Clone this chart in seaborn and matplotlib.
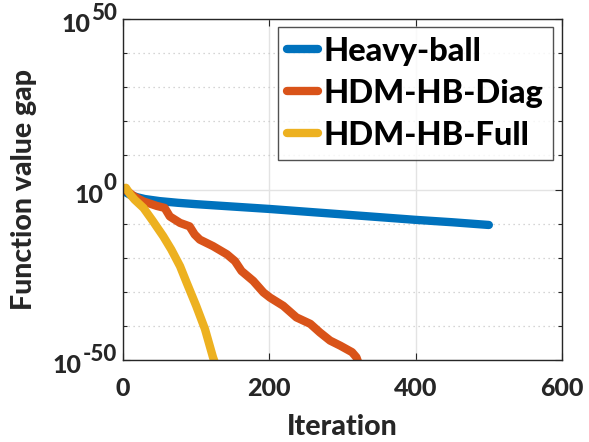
import numpy as np
import pandas as pd
import matplotlib
matplotlib.use("Agg")
import matplotlib.pyplot as plt
import matplotlib.ticker as mticker
from matplotlib.transforms import blended_transform_factory
import seaborn as sns

# Iteration counts and log10 of the function value gap for each method
hb_iter = [0, 5, 10, 20, 30, 50, 75, 100, 150, 200, 250, 300, 350, 400, 450, 500]
hb_log10 = [0.0, -1.0, -1.6, -2.3, -2.8, -3.4, -3.9, -4.3, -5.0, -5.7, -6.5,
            -7.3, -8.1, -8.9, -9.6, -10.4]

diag_iter = [0, 5, 15, 28, 46, 57, 64, 78, 91, 98, 105, 123, 142, 153, 162,
             178, 192, 201, 219, 237, 256, 269, 283, 297, 313, 319, 322]
diag_log10 = [0.0, -0.3, -2.0, -3.5, -4.8, -5.4, -7.9, -9.8, -10.8, -13.2,
              -14.7, -16.6, -19.0, -21.0, -23.9, -26.8, -30.2, -31.7, -34.1,
              -37.5, -39.4, -41.9, -44.3, -45.8, -47.7, -49.2, -51.0]

full_iter = [0, 4, 10, 16, 28, 41, 47, 55, 66, 78, 87, 100, 112, 123, 126]
full_log10 = [0.3, 0.5, -1.5, -3.0, -5.4, -9.3, -11.2, -13.7, -17.6, -22.5,
              -27.3, -34.1, -40.9, -49.2, -51.0]

methods = ["Heavy-ball", "HDM-HB-Diag", "HDM-HB-Full"]
colors = ["#0072BD", "#D95319", "#EDB120"]

x_ticks = [0, 200, 400, 600]
y_tick_exponents = [-50, 0, 50]

frames = []
for name, it, lg in zip(methods, [hb_iter, diag_iter, full_iter],
                        [hb_log10, diag_log10, full_log10]):
    frames.append(pd.DataFrame({"Iteration": it,
                                "gap": 10.0 ** np.asarray(lg, dtype=float),
                                "method": name}))
df = pd.concat(frames, ignore_index=True)

sns.set_theme(style="white")
plt.rcParams["font.family"] = ["Lato", "DejaVu Sans"]
plt.rcParams["font.weight"] = 900

fig = plt.figure(figsize=(5.89, 4.42), dpi=100)
ax = fig.add_axes([0.2088, 0.1855, 0.7454, 0.7715])

sns.lineplot(data=df, x="Iteration", y="gap", hue="method",
             palette=dict(zip(methods, colors)), linewidth=6,
             ax=ax, legend=True)

dark = "#262626"

ax.set_yscale("log")
ax.set_xlim(0, 600)
ax.set_ylim(1e-50, 1e50)
ax.set_xticks(x_ticks)
ax.yaxis.set_major_locator(
    mticker.FixedLocator([10.0 ** e for e in y_tick_exponents]))
ax.yaxis.set_major_formatter(mticker.NullFormatter())
minor = [10.0 ** k for k in range(-40, 50, 10) if k != 0]
ax.yaxis.set_minor_locator(mticker.FixedLocator(minor))
ax.yaxis.set_minor_formatter(mticker.NullFormatter())

# Power-of-ten tick labels with a large raised exponent
ytrans = blended_transform_factory(ax.transAxes, ax.transData)
for e in y_tick_exponents:
    exp_txt = ax.annotate(str(e), xy=(0, 10.0 ** e), xycoords=ytrans,
                          xytext=(-4.5, -0.7), textcoords="offset points",
                          ha="right", va="baseline", fontsize=16,
                          fontweight=900, color=dark,
                          annotation_clip=False)
    ax.annotate("10", xy=(0, 10.0 ** e), xycoords=(exp_txt, ytrans),
                xytext=(-0.5, -9.6), textcoords="offset points",
                ha="right", va="baseline", fontsize=18, fontweight=900,
                color=dark, annotation_clip=False)

for s in ax.spines.values():
    s.set_visible(True)
    s.set_color(dark)
    s.set_linewidth(1.0)

ax.grid(True, which="major", color="#e3e3e3", linewidth=1.0, linestyle="-")
ax.grid(True, which="minor", axis="y", color="#c8c8c8", linewidth=0.9,
        linestyle=(0, (1, 3)))
ax.set_axisbelow(True)

ax.tick_params(which="both", direction="in", top=True, right=True,
               left=True, bottom=True, colors=dark, labelsize=18,
               width=0.8)
ax.tick_params(which="major", length=5)
ax.tick_params(which="minor", length=3)
ax.tick_params(axis="x", which="major", pad=12)

ax.set_xlabel("Iteration", fontsize=20.5, fontweight=900, color=dark)
ax.set_ylabel("Function value gap", fontsize=20.5, fontweight=900,
              color=dark)
ax.xaxis.set_label_coords(0.5, -0.159)
ax.yaxis.set_label_coords(-0.195, 0.5)

handles, labels = ax.get_legend_handles_labels()
leg = ax.legend(handles, labels, loc="upper right",
                bbox_to_anchor=(0.9795, 0.9765), borderaxespad=0,
                fancybox=False, frameon=True, handlelength=0.95,
                handletextpad=0.15, labelspacing=0.4, borderpad=0.3,
                prop={"family": ["Lato", "DejaVu Sans"], "weight": 900,
                      "size": 23.5})
leg.get_frame().set_edgecolor(dark)
leg.get_frame().set_linewidth(1.0)
for line in leg.get_lines():
    line.set_linewidth(6)
for t in leg.get_texts():
    t.set_color("black")

fig.savefig("out.png", dpi=100)
